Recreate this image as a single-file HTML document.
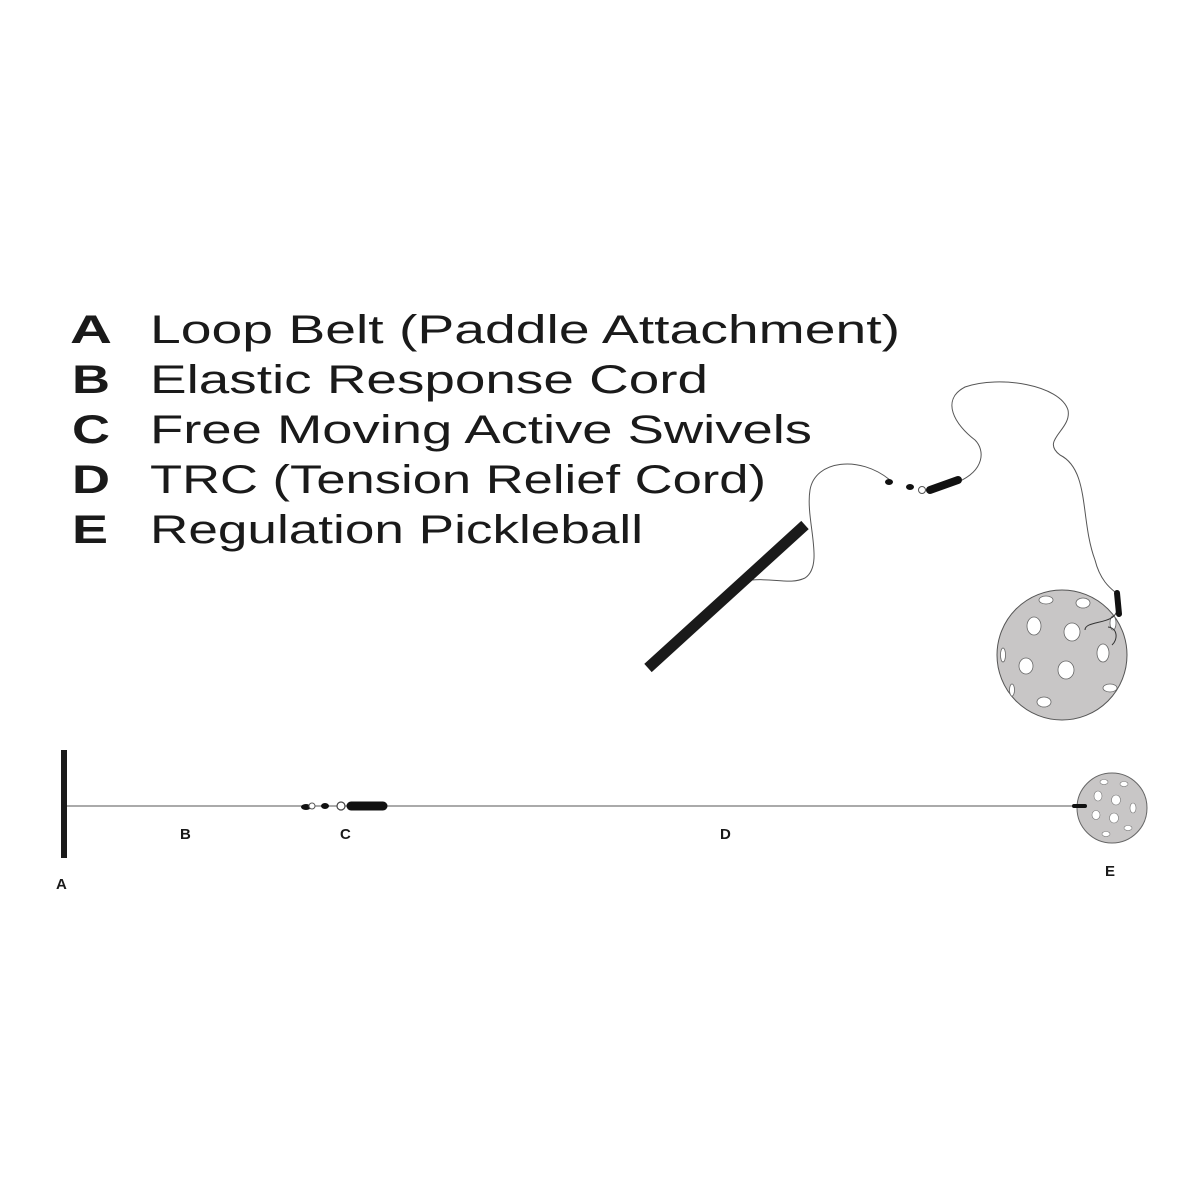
<!DOCTYPE html>
<html><head><style>html,body{margin:0;padding:0;background:#fff}svg{display:block}</style></head><body>
<svg width="1200" height="1200" viewBox="0 0 1200 1200" xmlns="http://www.w3.org/2000/svg">
<g font-family="Liberation Sans, sans-serif" fill="#1a1a1a">
<g font-weight="bold" font-size="40">
<text x="70" y="343" textLength="42" lengthAdjust="spacingAndGlyphs">A</text>
<text x="72" y="393" textLength="38" lengthAdjust="spacingAndGlyphs">B</text>
<text x="72" y="443" textLength="38" lengthAdjust="spacingAndGlyphs">C</text>
<text x="72" y="493" textLength="38" lengthAdjust="spacingAndGlyphs">D</text>
<text x="72" y="543" textLength="36" lengthAdjust="spacingAndGlyphs">E</text>
</g>
<g font-size="40">
<text x="150" y="343" textLength="750" lengthAdjust="spacingAndGlyphs">Loop Belt (Paddle Attachment)</text>
<text x="150" y="393" textLength="558" lengthAdjust="spacingAndGlyphs">Elastic Response Cord</text>
<text x="150" y="443" textLength="662" lengthAdjust="spacingAndGlyphs">Free Moving Active Swivels</text>
<text x="150" y="493" textLength="616" lengthAdjust="spacingAndGlyphs">TRC (Tension Relief Cord)</text>
<text x="150" y="543" textLength="493" lengthAdjust="spacingAndGlyphs">Regulation Pickleball</text>
</g>
<g font-weight="bold" font-size="15">
<text x="180" y="839">B</text><text x="340" y="839">C</text><text x="720" y="839">D</text>
<text x="56" y="889">A</text><text x="1105" y="876">E</text>
</g>
</g>
<path d="M752,580 C775,578 790,585 805,578 C825,565 805,520 810,490 C815,460 860,455 890,480" fill="none" stroke="#555" stroke-width="1"/>
<path d="M958,482 C985,470 985,450 975,440 C955,425 940,400 965,387 C1000,375 1060,385 1068,410 C1072,430 1040,440 1060,455 C1090,470 1080,520 1095,560 C1100,580 1110,588 1115,592" fill="none" stroke="#555" stroke-width="1"/>
<line x1="648" y1="668" x2="805" y2="525" stroke="#1a1a1a" stroke-width="11"/>
<g fill="#111">
<ellipse cx="889" cy="482" rx="4" ry="3"/><ellipse cx="910" cy="487" rx="4" ry="3"/>
<line x1="930" y1="490" x2="958" y2="480" stroke="#111" stroke-width="8" stroke-linecap="round"/>
</g>
<circle cx="922" cy="490" r="3.5" fill="#fff" stroke="#555"/>
<circle cx="1062" cy="655" r="65" fill="#c8c6c6" stroke="#555" stroke-width="1"/>
<g fill="#fff" stroke="#666" stroke-width="0.8">
<ellipse cx="1034" cy="626" rx="7" ry="9"/><ellipse cx="1072" cy="632" rx="8" ry="9"/><ellipse cx="1026" cy="666" rx="7" ry="8"/>
<ellipse cx="1066" cy="670" rx="8" ry="9"/><ellipse cx="1103" cy="653" rx="6" ry="9"/><ellipse cx="1046" cy="600" rx="7" ry="4"/>
<ellipse cx="1083" cy="603" rx="7" ry="5"/><ellipse cx="1044" cy="702" rx="7" ry="5"/><ellipse cx="1110" cy="688" rx="7" ry="4"/>
<ellipse cx="1003" cy="655" rx="2.5" ry="7"/><ellipse cx="1012" cy="690" rx="2.5" ry="6"/><ellipse cx="1113" cy="623" rx="3" ry="7"/>
</g>
<path d="M1117,610 C1115,625 1085,620 1085,630 M1108,627 C1118,628 1118,640 1112,645" fill="none" stroke="#333" stroke-width="1"/>
<line x1="1117" y1="593" x2="1119" y2="614" stroke="#111" stroke-width="6" stroke-linecap="round"/>
<line x1="64" y1="806" x2="1080" y2="806" stroke="#777" stroke-width="1.2"/>
<rect x="61" y="750" width="6" height="108" fill="#1a1a1a"/>
<ellipse cx="306" cy="807" rx="5" ry="3" fill="#111"/>
<circle cx="312" cy="806" r="3" fill="#fff" stroke="#555"/>
<ellipse cx="325" cy="806" rx="4" ry="3" fill="#111"/>
<circle cx="341" cy="806" r="4" fill="#fff" stroke="#444" stroke-width="1.2"/>
<line x1="351" y1="806" x2="383" y2="806" stroke="#111" stroke-width="9" stroke-linecap="round"/>
<circle cx="1112" cy="808" r="35" fill="#c8c6c6" stroke="#666"/>
<g fill="#fff" stroke="#777" stroke-width="0.6">
<ellipse cx="1098" cy="796" rx="4" ry="5"/><ellipse cx="1116" cy="800" rx="4.5" ry="5"/><ellipse cx="1096" cy="815" rx="4" ry="4.5"/>
<ellipse cx="1114" cy="818" rx="4.5" ry="5"/><ellipse cx="1133" cy="808" rx="3" ry="5"/><ellipse cx="1104" cy="782" rx="4" ry="2.5"/>
<ellipse cx="1124" cy="784" rx="4" ry="2.5"/><ellipse cx="1106" cy="834" rx="4" ry="2.5"/><ellipse cx="1128" cy="828" rx="4" ry="2.5"/>
</g>
<line x1="1074" y1="806" x2="1085" y2="806" stroke="#111" stroke-width="4" stroke-linecap="round"/>
</svg>
</body></html>
